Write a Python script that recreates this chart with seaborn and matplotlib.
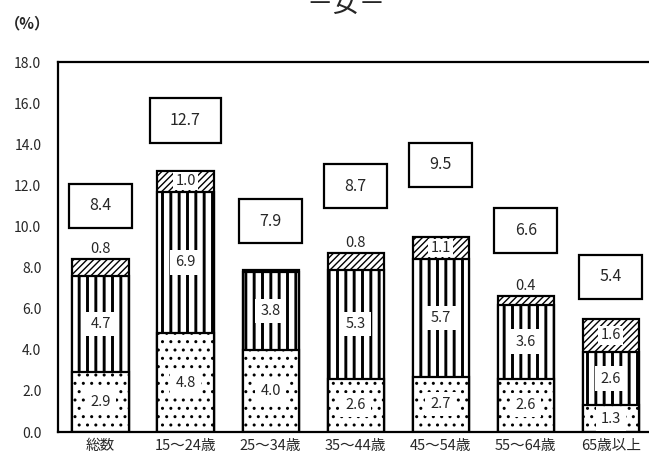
import numpy as np
import pandas as pd
import matplotlib
matplotlib.use("Agg")
import matplotlib.pyplot as plt
from matplotlib.patches import Rectangle
from matplotlib.ticker import FormatStrFormatter
import seaborn as sns

# --- data ---
categories = ["総数", "15～24歳", "25～34歳", "35～44歳", "45～54歳", "55～64歳", "65歳以上"]
bottom_vals = [2.9, 4.8, 4.0, 2.6, 2.7, 2.6, 1.3]   # dotted
middle_vals = [4.7, 6.9, 3.8, 5.3, 5.7, 3.6, 2.6]   # vertical lines
top_vals = [0.8, 1.0, 0.1, 0.8, 1.1, 0.4, 1.6]      # diagonal
totals = [8.4, 12.7, 7.9, 8.7, 9.5, 6.6, 5.4]

# where the total boxes sit (y, data units)
total_box_y = [11.0, 15.15, 10.25, 11.95, 13.0, 9.8, 7.55]

sns.set_style("white")
plt.rcParams["font.family"] = ["Noto Sans CJK JP", "DejaVu Sans"]
plt.rcParams["hatch.linewidth"] = 1.0

df = pd.DataFrame({
    "cat": categories,
    "b": bottom_vals,
    "m": middle_vals,
    "t": top_vals,
})
df["bm"] = df["b"] + df["m"]
df["bmt"] = df["bm"] + df["t"]

fig = plt.figure(figsize=(6.49, 4.55), dpi=100)
ax = fig.add_axes([58 / 649, 23 / 455, 591 / 649, 370 / 455])

# stacked bars: draw cumulative heights from the top layer down
layers = [("bmt", "/////"), ("bm", "||"), ("b", "..")]
for col, hatch in layers:
    n_before = len(ax.patches)
    sns.barplot(data=df, x="cat", y=col, color="white", saturation=1,
                edgecolor="black", linewidth=1.6, hatch=hatch, width=0.66,
                order=categories, ax=ax)
    if col == "bm":
        for p in ax.patches[n_before:]:
            if hasattr(p, "set_hatch_linewidth"):
                p.set_hatch_linewidth(2.1)

lbl_box = dict(boxstyle="square,pad=0.35", facecolor="white", edgecolor="none")
fs = 10.5
for i in range(len(categories)):
    b, m, t = bottom_vals[i], middle_vals[i], top_vals[i]
    ax.text(i, b / 2, f"{b:.1f}", ha="center", va="center", fontsize=fs,
            bbox=lbl_box, zorder=5)
    ax.text(i, b + m / 2, f"{m:.1f}", ha="center", va="center", fontsize=fs,
            bbox=lbl_box, zorder=5)
    if t >= 1.0:
        ax.text(i, b + m + t / 2, f"{t:.1f}", ha="center", va="center",
                fontsize=fs, bbox=dict(boxstyle="square,pad=0.15",
                                       facecolor="white", edgecolor="none"),
                zorder=5)
    elif t >= 0.2:
        ax.text(i, b + m + t + 0.5, f"{t:.1f}", ha="center", va="center",
                fontsize=fs, zorder=5)

    # total in a framed box
    lab = f"{totals[i]:.1f}"
    w = 0.45 + 0.095 * len(lab)
    h = 2.15
    ax.add_patch(Rectangle((i - w / 2, total_box_y[i] - h / 2), w, h,
                           facecolor="white", edgecolor="black", linewidth=1.6,
                           zorder=4))
    ax.text(i, total_box_y[i], lab, ha="center", va="center", fontsize=11.5,
            zorder=5)

ax.set_ylim(0, 18)
ax.set_xlim(-0.5, 6.45)
ax.set_yticks(np.arange(0, 18.1, 2))
ax.yaxis.set_major_formatter(FormatStrFormatter("%.1f"))
ax.tick_params(axis="y", length=0, pad=12, labelsize=10)
ax.tick_params(axis="x", length=0, pad=5, labelsize=10.5)
ax.set_xlabel("")
ax.set_ylabel("")

for side in ["left", "bottom", "top"]:
    ax.spines[side].set_visible(True)
    ax.spines[side].set_color("black")
    ax.spines[side].set_linewidth(1.6)
ax.spines["right"].set_visible(False)

# title sits partly above the top edge, as in the source image
fig.text(346 / 649, 1 - 12 / 455, "－女－", ha="center", va="baseline", fontsize=19)
fig.text(5 / 649, 1 - 23 / 455, "（%）", ha="left", va="center", fontsize=11,
         fontweight="bold")

fig.savefig("out.png", dpi=100)
